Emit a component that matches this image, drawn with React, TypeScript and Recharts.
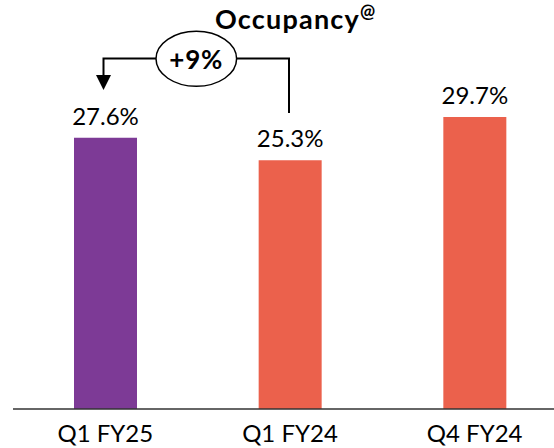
import { BarChart, Bar, XAxis, YAxis, Cell, LabelList, Customized } from 'recharts'

const categories = ['Q1 FY25', 'Q1 FY24', 'Q4 FY24']
const occupancy = [27.6, 25.3, 29.7]
const barColors = ['#7D3A96', '#EB614C', '#EB614C']
const changeLabel = '+9%'

const data = categories.map((name, i) => ({ name, value: occupancy[i] }))

const FONT = 'Lato, "Open Sans", sans-serif'

function Annotation() {
  return (
    <g>
      <text
        x={215}
        y={28.5}
        fontFamily={FONT}
        fontWeight={700}
        fontSize={27}
        letterSpacing={1.2}
        fill="#000"
      >
        Occupancy
        <tspan fontSize={18} dy={-11} letterSpacing={0}>@</tspan>
      </text>
      {/* bracket from Q1 FY24 back to Q1 FY25 */}
      <polyline
        points="289,113 289,58.5 236.5,58.5"
        fill="none"
        stroke="#000"
        strokeWidth={2}
      />
      <polyline
        points="156,58.5 103.5,58.5 103.5,76"
        fill="none"
        stroke="#000"
        strokeWidth={2}
      />
      <polygon points="96,75 111,75 103.5,90" fill="#000" />
      <ellipse cx={196.3} cy={58.8} rx={40.3} ry={27.5} fill="#fff" stroke="#000" strokeWidth={1.5} />
      <text
        x={196.3}
        y={69}
        textAnchor="middle"
        fontFamily={FONT}
        fontWeight={700}
        fontSize={26}
        letterSpacing={0.8}
        fill="#000"
      >
        {changeLabel}
      </text>
    </g>
  )
}

export default function App() {
  return (
    <div
      style={{
        position: 'absolute',
        left: 0,
        top: 0,
        width: 554,
        height: 448,
        overflow: 'hidden',
        background: '#fff',
      }}
    >
      <BarChart
        width={567}
        height={448}
        data={data}
        margin={{ top: 65, right: 0, bottom: 0, left: 13 }}
      >
        <XAxis
          dataKey="name"
          height={39}
          tickLine={false}
          tickMargin={10}
          axisLine={{ stroke: '#333', strokeWidth: 1.5 }}
          tick={{ fontSize: 24, fill: '#000', fontFamily: FONT }}
        />
        <YAxis hide domain={[0, 35]} />
        <Bar dataKey="value" barSize={63} isAnimationActive={false}>
          {data.map((d, i) => (
            <Cell key={d.name} fill={barColors[i]} />
          ))}
          <LabelList
            dataKey="value"
            position="top"
            offset={13}
            formatter={(v: any) => `${Number(v).toFixed(1)}%`}
            style={{ fontSize: 24, fill: '#000', fontFamily: FONT }}
          />
        </Bar>
        <Customized component={<Annotation />} />
      </BarChart>
    </div>
  )
}
